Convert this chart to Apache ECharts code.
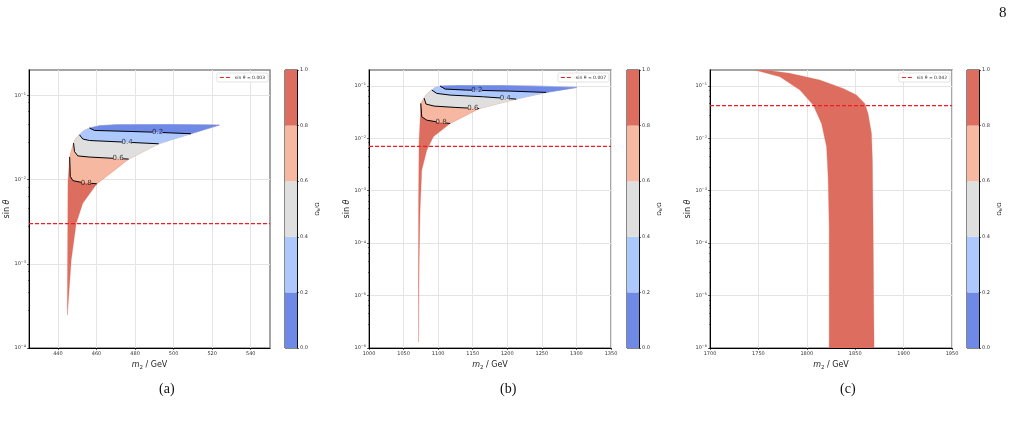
<!DOCTYPE html>
<html>
<head>
<meta charset="utf-8">
<script src="https://cdn.jsdelivr.net/npm/echarts@6/dist/echarts.min.js"></script>
<style>
  html, body { margin: 0; padding: 0; background: #fff; }
  #chart { width: 1023px; height: 431px; }
</style>
</head>
<body>
<div id="chart"></div>
<script>
// levels of the contour plot, colours of the bands 0-0.2 ... 0.8-1.0
const LEVELS = [0.8, 0.6, 0.4, 0.2];
const BAND_COLORS = ["#6f8ae6", "#adc8fd", "#dfdfdf", "#f6b8a0", "#dd6d5e"];
const CBAR_STEPS = [0.2, 0.2, 0.2, 0.2, 0.2];
const LOG_TICKS_A = [1e-4, 1e-3, 1e-2, 1e-1];
const LOG_TICKS_BC = [1e-6, 1e-5, 1e-4, 1e-3, 1e-2, 1e-1];

// ---- panel (a)
const xTicksA = [440, 460, 480, 500, 520, 540];
const sinA = 0.003;
// outer edge: from the right tip along the top, then down the left side
const upperA = [[523.7, 0.0444], [497.8, 0.0451], [470.2, 0.0448], [461.6, 0.0436], [456.4, 0.0409],
    [453.3, 0.038], [451.2, 0.034], [449.2, 0.0305], [448.1, 0.0271], [446.1, 0.0185],
    [445.2, 0.0095], [444.9, 3.7e-4], [444.9, 2.45e-4]];
// outer edge: from the right tip down the lower right side
const lowerA = [[523.7, 0.0444], [509.0, 0.035], [492.3, 0.0266], [476.7, 0.0175], [460.2, 0.0089],
    [452.9, 0.00524], [449.5, 0.00303], [446.9, 0.00111], [445.7, 4.45e-4], [444.9, 2.45e-4]];
const c08A = [[446.1, 0.0185], [446.4, 0.0109], [447.8, 0.0097], [452.9, 0.0092], [460.2, 0.0089]];
const c06A = [[448.1, 0.0271], [448.6, 0.0215], [450.3, 0.0191], [456.4, 0.0185], [476.7, 0.0175]];
const c04A = [[451.2, 0.034], [452.9, 0.0303], [456.4, 0.0291], [473.6, 0.0279], [492.3, 0.0266]];
const c02A = [[456.4, 0.0409], [459.0, 0.0383], [465.0, 0.038], [489.1, 0.0366], [509.0, 0.035]];
const labelXA = [454.7, 471.2, 475.9, 491.7];

// ---- panel (b)
const sinB = 0.007;
const upperB = [[1300.8, 0.0932], [1247.6, 0.0987], [1189.7, 0.101], [1131.8, 0.101], [1102.8, 0.0987],
    [1095.6, 0.0924], [1090.8, 0.0828], [1084, 0.071], [1079.7, 0.0582], [1074.9, 0.0461],
    [1073.9, 0.0221], [1072.4, 0.0092], [1071.7, 6.6e-4], [1071.5, 4.7e-5], [1071.6, 1.3e-6]];
const lowerB = [[1300.8, 0.0932], [1256.3, 0.0748], [1212.9, 0.0557], [1159.3, 0.0367], [1117.3, 0.0191],
    [1093.1, 0.01064], [1083.6, 0.00593], [1076.3, 0.00246], [1073.9, 4.25e-4], [1072.6, 4.7e-5],
    [1071.6, 1.3e-6]];
const c08B = [[1074.9, 0.0461], [1076.3, 0.0256], [1083.6, 0.0221], [1098.0, 0.0205], [1117.3, 0.0191]];
const c06B = [[1079.7, 0.0582], [1082.5, 0.0448], [1094.1, 0.041], [1124.5, 0.0387], [1159.3, 0.0367]];
const c04B = [[1090.8, 0.0828], [1098.0, 0.0716], [1117.3, 0.0665], [1165.5, 0.0617], [1212.9, 0.0557]];
const c02B = [[1102.8, 0.0987], [1110.1, 0.0865], [1141.5, 0.0828], [1204.2, 0.0792], [1256.3, 0.0748]];
const labelXB = [1104.3, 1150.2, 1197, 1156];

// ---- panel (c)
const sinC = 0.042;
const upperC = [[1756.7, 0.2], [1746.4, 0.2], [1772.2, 0.1486], [1792.9, 0.0828], [1806.6, 0.0428],
    [1815.2, 0.0191], [1820.4, 0.00686], [1822.0, 0.00183], [1823.1, 2.04e-4], [1823.1, 1e-6]];
const lowerC = [[1756.7, 0.2], [1782.5, 0.1726], [1813.5, 0.1285], [1837.5, 0.0892], [1851.3, 0.0665],
    [1859.9, 0.0461], [1863.3, 0.0297], [1866.8, 0.0124], [1867.8, 0.00382], [1868.5, 2.04e-4],
    [1869.5, 1e-6]];

const FONT = "DejaVu Sans";
const RED = "#ee1c24";
const chart = echarts.init(document.getElementById("chart"));

function yAt(pts, x) {
    for (let i = 0; i < pts.length - 1; i++) {
        const [x0, y0] = pts[i], [x1, y1] = pts[i + 1];
        if (x >= x0 && x <= x1) {
            const t = x1 === x0 ? 0 : (x - x0) / (x1 - x0);
            return Math.pow(10, Math.log10(y0) + t * (Math.log10(y1) - Math.log10(y0)));
        }
    }
    return pts[pts.length - 1][1];
}

// cut a contour around its label
function split(pts, xc, hw) {
    const a = pts.filter((p) => p[0] < xc - hw).concat([[xc - hw, yAt(pts, xc - hw)]]);
    const b = [[xc + hw, yAt(pts, xc + hw)]].concat(pts.filter((p) => p[0] > xc + hw));
    return [a, b];
}

// red outer region first, then each region above a contour on top of it
function layers(upper, lower, contours) {
    const out = [{ pts: upper.concat(lower.slice().reverse()), color: BAND_COLORS[4] }];
    contours.forEach((c, k) => {
        const start = c[0], end = c[c.length - 1];
        const pts = c
            .concat(lower.filter((p) => p[1] > end[1]).reverse())
            .concat(upper.filter((p) => p[1] > start[1]));
        out.push({ pts, color: BAND_COLORS[3 - k] });
    });
    return out;
}

function fillSeries(idx, ls) {
    return {
        type: "custom", xAxisIndex: idx, yAxisIndex: idx, silent: true, clip: true, z: 1,
        data: ls.map((l) => l.pts[0]),
        renderItem: (params, api) => {
            const l = ls[params.dataIndex];
            return {
                type: "polygon",
                shape: { points: l.pts.map((p) => api.coord(p)) },
                style: { fill: l.color, stroke: l.color, lineWidth: 0.3 },
            };
        },
    };
}

function contourSeries(idx, contours, labelX, hw) {
    const out = [];
    const labels = [];
    contours.forEach((c, k) => {
        split(c, labelX[k], hw).forEach((seg) =>
            out.push({
                type: "line", xAxisIndex: idx, yAxisIndex: idx, data: seg, symbol: "none",
                silent: true, z: 3, lineStyle: { color: "#000", width: 1 },
            }),
        );
        labels.push([labelX[k], yAt(c, labelX[k]), LEVELS[k].toFixed(1)]);
    });
    out.push({
        type: "scatter", xAxisIndex: idx, yAxisIndex: idx, data: labels, symbolSize: 0, silent: true, z: 5,
        label: {
            show: true, position: "inside", formatter: (p) => p.value[2],
            fontFamily: FONT, fontSize: 7, color: "#111",
        },
    });
    return out;
}

function sinSeries(idx, s, xmin, xmax) {
    return {
        type: "line", name: `sin θ = ${s}`, xAxisIndex: idx, yAxisIndex: idx,
        data: [[xmin, s], [xmax, s]], symbol: "none", silent: true, z: 10,
        lineStyle: { color: RED, width: 1.2, type: [4, 2] },
        itemStyle: { color: RED },
    };
}

const panels = [
    { left: 29, width: 241, cbLeft: 285, xmin: 425, xmax: 550, xTicks: xTicksA, logTicks: LOG_TICKS_A, ymin: 1e-4 },
    { left: 369, width: 242, cbLeft: 627, xmin: 1000, xmax: 1350, interval: 50, logTicks: LOG_TICKS_BC, ymin: 1e-6 },
    { left: 710, width: 242, cbLeft: 967, xmin: 1700, xmax: 1950, interval: 50, logTicks: LOG_TICKS_BC, ymin: 1e-6 },
];

const TOP = 70, HEIGHT = 278;
const grid = [], xAxis = [], yAxis = [], legend = [];
const tickLabel = { fontFamily: FONT, fontSize: 5, color: "#333", margin: 3 };

panels.forEach((p, i) => {
    grid.push({ left: p.left, top: TOP, width: p.width, height: HEIGHT, show: true,
        borderColor: "#888", borderWidth: 1.5, backgroundColor: "transparent" });
    const xa = {
        gridIndex: i, type: "value", min: p.xmin, max: p.xmax,
        axisLine: { onZero: false, lineStyle: { color: "#000", width: 1 } },
        axisTick: { length: 2, lineStyle: { color: "#000", width: 0.6 } },
        axisLabel: { ...tickLabel, formatter: (v) => String(v) },
        splitLine: { show: true, lineStyle: { color: "#e4e4e4", width: 1 } },
        name: "{i|m}{s|2}{n| / GeV}", nameLocation: "middle", nameGap: 11,
        nameTextStyle: { fontFamily: FONT, fontSize: 8, color: "#222",
            rich: { i: { fontStyle: "italic", fontSize: 8, fontFamily: FONT }, s: { fontSize: 5.5, padding: [5, 0, 0, 0], fontFamily: FONT }, n: { fontSize: 8, fontFamily: FONT } } },
    };
    if (p.interval) xa.interval = p.interval;
    if (p.xTicks) {
        xa.axisTick.customValues = p.xTicks;
        xa.axisLabel.customValues = p.xTicks;
    }
    xAxis.push(xa);
    yAxis.push({
        gridIndex: i, type: "log", logBase: 10, min: p.ymin, max: 0.2,
        axisLine: { onZero: false, lineStyle: { color: "#000", width: 1 } },
        axisTick: { length: 2, customValues: p.logTicks, lineStyle: { color: "#000", width: 0.6 } },
        minorTick: { show: true, splitNumber: 5, length: 1, lineStyle: { color: "#000", width: 0.5 } },
        axisLabel: {
            ...tickLabel, customValues: p.logTicks,
            formatter: (v) => "{b|10}{s|−" + Math.round(-Math.log10(v)) + "}",
            rich: { b: { fontFamily: FONT, fontSize: 5, color: "#333" }, s: { fontFamily: FONT, fontSize: 3.5, color: "#333", padding: [0, 0, 3, 0] } },
        },
        splitLine: { show: true, lineStyle: { color: "#e4e4e4", width: 1 } },
        name: "{n|sin }{i|θ}", nameLocation: "middle", nameGap: 18, nameRotate: 90,
        nameTextStyle: { color: "#222", rich: { n: { fontFamily: FONT, fontSize: 8 }, i: { fontFamily: FONT, fontSize: 8, fontStyle: "italic" } } },
    });
    legend.push({
        data: [{
            name: `sin θ = ${[sinA, sinB, sinC][i]}`,
            icon: "path://M0,0H4V1H0Z M6,0H10V1H6Z",
            itemStyle: { color: RED, borderWidth: 0 },
            lineStyle: { width: 0 },
        }],
        right: 1023 - (p.left + p.width) + 2, top: TOP + 3,
        itemWidth: 10, itemHeight: 1.6, padding: [2, 3], itemGap: 2,
        backgroundColor: "#fff", borderColor: "#d0d0d0", borderWidth: 0.6, borderRadius: 1.5,
        textStyle: { fontFamily: FONT, fontSize: 4.5, color: "#333" },
        selectedMode: false,
    });
});

// colour bars
panels.forEach((p, i) => {
    grid.push({ left: p.cbLeft, top: TOP, width: 12, height: HEIGHT, show: true,
        borderColor: "#111", borderWidth: 1, backgroundColor: "transparent" });
    xAxis.push({ gridIndex: 3 + i, type: "category", data: [""], show: false });
    yAxis.push({
        gridIndex: 3 + i, type: "value", min: 0, max: 1, interval: 0.2, position: "right",
        axisLine: { show: true, lineStyle: { color: "#111", width: 1 } },
        axisTick: { show: true, length: 2, lineStyle: { color: "#111", width: 0.6 } },
        axisLabel: { ...tickLabel, formatter: (v) => v.toFixed(1) },
        splitLine: { show: false },
        name: "{a|Ω}{s|h}{a|/Ω}", nameLocation: "middle", nameGap: 17, nameRotate: 90,
        nameTextStyle: { color: "#333", rich: { a: { fontFamily: FONT, fontSize: 5.5 }, s: { fontFamily: FONT, fontSize: 4, padding: [3, 0, 0, 0] } } },
    });
});

const series = [];
series.push(fillSeries(0, layers(upperA, lowerA, [c08A, c06A, c04A, c02A])));
series.push(...contourSeries(0, [c08A, c06A, c04A, c02A], labelXA, 2.6));
series.push(sinSeries(0, sinA, 425, 550));

series.push(fillSeries(1, layers(upperB, lowerB, [c08B, c06B, c04B, c02B])));
series.push(...contourSeries(1, [c08B, c06B, c04B, c02B], labelXB, 7.2));
series.push(sinSeries(1, sinB, 1000, 1350));

series.push(fillSeries(2, layers(upperC, lowerC, [])));
series.push(sinSeries(2, sinC, 1700, 1950));

[0, 1, 2].forEach((i) =>
    CBAR_STEPS.forEach((v, k) =>
        series.push({
            type: "bar", xAxisIndex: 3 + i, yAxisIndex: 3 + i, stack: "cb" + i, data: [v],
            barWidth: "100%", silent: true, itemStyle: { color: BAND_COLORS[k] },
        }),
    ),
);

const captions = [["(a)", 168], ["(b)", 509], ["(c)", 849]];

chart.setOption({
    animation: false,
    backgroundColor: "#fff",
    grid, xAxis, yAxis, legend, series,
    graphic: captions
        .map(([t, x]) => ({
            type: "text", left: x - 9, top: 382,
            style: { text: t, font: '14px "Liberation Serif", "DejaVu Serif", serif', fill: "#111" },
        }))
        .concat([{
            type: "text", left: 999, top: 6,
            style: { text: "8", font: '15px "Liberation Serif", "DejaVu Serif", serif', fill: "#111" },
        }]),
});
</script>
</body>
</html>
